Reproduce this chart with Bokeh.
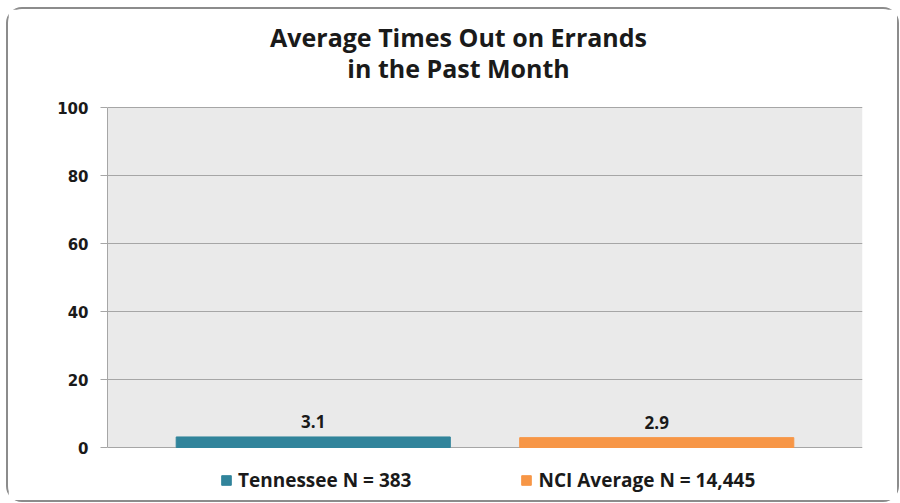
from bokeh.plotting import figure
from bokeh.models import (ColumnDataSource, Range1d, Legend, LegendItem,
                          BoxAnnotation, Label)
from bokeh.core.properties import value
from bokeh.embed import file_html
from bokeh.resources import INLINE

title_lines = ["Average Times Out on Errands", "in the Past Month"]
categories = ["Tennessee N = 383", "NCI Average N = 14,445"]
values = [3.1, 2.9]
bar_colors = ["#31849B", "#F79646"]
y_ticks = [0, 20, 40, 60, 80, 100]

src = ColumnDataSource(dict(
    x=list(range(len(categories))),
    value=values,
    label=[f"{v:.1f}" for v in values],
    color=bar_colors,
))

# layout (pixels)
W, H = 893, 495
OX, OY = 8, 9                      # where the canvas lands in the window
FRAME_L, FRAME_R = 107, 862        # frame left / right (window px)
FRAME_T, FRAME_B = 14, 496         # frame top / bottom (window px)
Y0_PX, Y100_PX = 447, 107          # pixel rows of 0 and 100
ppu = (Y0_PX - Y100_PX) / 100.0
y_start = -(FRAME_B - Y0_PX) / ppu
y_end = 100 + (Y100_PX - FRAME_T) / ppu

p = figure(width=W, height=H, output_backend="svg", toolbar_location=None,
           x_range=Range1d(-0.599, 1.599), y_range=Range1d(y_start, y_end),
           x_axis_location=None,
           min_border_left=FRAME_L - OX, min_border_right=OX + W - FRAME_R,
           min_border_top=FRAME_T - OY, min_border_bottom=OY + H - FRAME_B)
p.styles = {"margin-left": "6px", "margin-top": "7px",
            "border": "2.5px solid #8C8C8C", "border-radius": "16px"}

p.background_fill_color = "white"
p.border_fill_color = "white"
p.outline_line_color = None
p.title.visible = False

# grey plot area between 0 and 100
bg = BoxAnnotation(bottom=y_ticks[0], top=y_ticks[-1], fill_color="#EAEAEA",
                   fill_alpha=1, line_color=None, level="image")
p.add_layout(bg)

# y axis
yax = p.yaxis[0]
yax.ticker = y_ticks
yax.bounds = (y_ticks[0], y_ticks[-1])
yax.axis_line_color = "#A6A6A6"
yax.major_tick_line_color = "#A6A6A6"
yax.major_tick_out = 7
yax.major_tick_in = 0
yax.minor_tick_line_color = None
yax.major_label_standoff = 12
yax.major_label_text_font = "DejaVu Sans"
yax.major_label_text_font_style = "bold"
yax.major_label_text_font_size = "15px"
yax.major_label_text_color = "#1a1a1a"

p.xgrid.grid_line_color = None
p.ygrid.ticker = y_ticks
p.ygrid.grid_line_color = "#A6A6A6"
p.ygrid.grid_line_width = 1

r = p.vbar(x="x", top="value", width=0.798, color="color", line_color="color",
           source=src)

p.text(x="x", y="value", text="label", source=src, y_offset=-9,
       text_align="center", text_baseline="bottom",
       text_font=value("Open Sans"), text_font_style="bold",
       text_font_size="17px", text_color="#1a1a1a")

# title lines
for txt, ypx in zip(title_lines, [36, 67]):
    p.add_layout(Label(x=0.423, y=(Y0_PX - ypx) / ppu, text=txt,
                       text_align="center", text_baseline="middle",
                       text_font="Open Sans", text_font_style="bold",
                       text_font_size="25px", text_color="#1a1a1a"))

legend = Legend(items=[LegendItem(label=c, renderers=[r], index=i)
                       for i, c in enumerate(categories)],
                orientation="horizontal", location=(113, 3),
                glyph_width=12, glyph_height=12, label_standoff=6,
                spacing=109, padding=0, margin=0,
                border_line_color=None, background_fill_alpha=0,
                label_text_font="Open Sans", label_text_font_style="bold",
                label_text_font_size="19px", label_text_color="#1a1a1a")
p.add_layout(legend, "center")

open("out.html", "w").write(file_html(p, INLINE))
